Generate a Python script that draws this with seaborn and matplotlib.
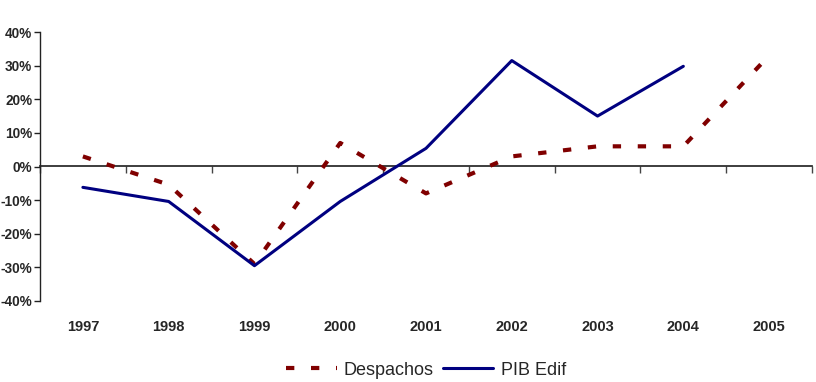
import numpy as np
import pandas as pd
import matplotlib
matplotlib.use("Agg")
import matplotlib.pyplot as plt
import seaborn as sns
from matplotlib.ticker import FuncFormatter, FixedLocator

years = ["1997", "1998", "1999", "2000", "2001", "2002", "2003", "2004", "2005"]
despachos = [3.0, -5.4, -29.0, 7.0, -8.0, 3.0, 6.0, 6.0, 33.0]
pib_edif = [-6.2, -10.4, -29.5, -10.4, 5.4, 31.5, 15.0, 29.8, np.nan]

sns.set_theme(style="white")
plt.rcParams['font.family'] = ['Liberation Sans', 'DejaVu Sans']

pos = np.arange(len(years))
df_d = pd.DataFrame({"x": pos, "v": despachos})
df_p = pd.DataFrame({"x": pos, "v": pib_edif}).dropna()

fig = plt.figure(figsize=(8.16, 3.82), dpi=100)
ax = fig.add_axes([40/816, 1 - 301/382, (812 - 40)/816, (301 - 32)/382])

sns.lineplot(data=df_d, x="x", y="v", ax=ax, color="#800000", linewidth=3,
             label="Despachos", dashes=False)
ax.lines[-1].set_dashes((2, 4))
sns.lineplot(data=df_p, x="x", y="v", ax=ax, color="#000080", linewidth=2.2,
             label="PIB Edif")

ax.set_xlim(-0.5, len(years) - 0.5)
ax.set_ylim(-40, 40)
ax.set_xlabel("")
ax.set_ylabel("")

for s in ["top", "right", "bottom"]:
    ax.spines[s].set_visible(False)
ax.spines["left"].set_color("#222222")
ax.spines["left"].set_linewidth(1.0)

ax.yaxis.set_major_locator(FixedLocator(np.arange(-40, 41, 10)))
ax.yaxis.set_major_formatter(FuncFormatter(lambda v, p: f"{v:.0f}%".replace("\u2212", "-")))
ax.tick_params(axis="y", left=True, direction="out", length=4, width=1,
               color="#222222", labelsize=9.8, pad=1.5)
for lbl in ax.get_yticklabels():
    lbl.set_fontweight("bold")

ax.set_xticks(pos)
ax.set_xticklabels(years, fontweight="bold", fontsize=10.5)
ax.tick_params(axis="x", bottom=False, length=0, pad=14)

sec = ax.secondary_xaxis(0.5)
sec.spines["bottom"].set_color("#444444")
sec.spines["bottom"].set_linewidth(1.0)
sec.set_xticks(np.arange(-0.5, len(years), 1.0))
sec.set_xticklabels([])
sec.tick_params(axis="x", direction="in", length=5, width=1, color="#444444",
                labelbottom=False)

leg = ax.legend(loc="upper center", bbox_to_anchor=(0.50, -0.165), ncol=2,
                frameon=False, fontsize=13, handlelength=2.8,
                columnspacing=0.5, handletextpad=0.4)

fig.savefig("out.png", dpi=100)
